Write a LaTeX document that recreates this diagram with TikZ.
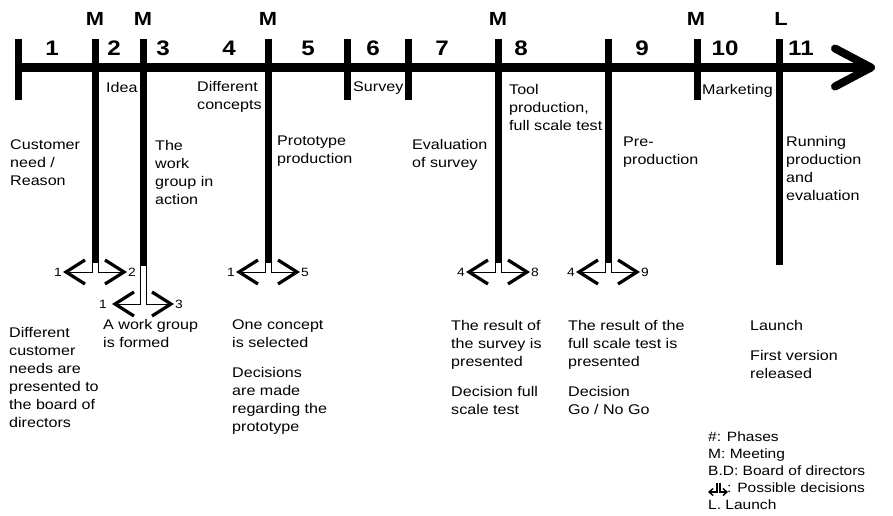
\documentclass[tikz,border=0pt]{standalone}
\usepackage{fontspec}
\setmainfont[FakeStretch=1.15]{Liberation Sans}
\usetikzlibrary{arrows.meta,positioning}

\begin{document}
\begin{tikzpicture}[x=1pt,y=-1pt,
   axis/.style={line width=9pt,-{Straight Barb[length=36pt,width=38pt,line width=8pt,round]}},
   bar/.style={line width=7pt},
   phase/.style={font=\fontsize{21}{21}\selectfont\bfseries,inner sep=0pt},
   meet/.style={font=\fontsize{19}{19}\selectfont\bfseries,inner sep=0pt},
   txt/.style={font=\fontsize{14}{18}\selectfont,align=left,anchor=north west,inner sep=0pt},
   num/.style={font=\fontsize{12}{12}\selectfont,inner sep=1pt},
   dec/.style={line width=1pt,-{Straight Barb[length=19pt,width=24pt,line width=3.2pt]}},
   mini/.style={line width=1.2pt,-{Straight Barb[length=4pt,width=7pt,line width=1.4pt]}}]
   \useasboundingbox (0,0) rectangle (893,516);

   % time axis
   \coordinate (axisL) at (18,67.5);
   \coordinate (axisR) at (875,67.5);
   \draw[axis] (axisL) -- (axisR);

   % phase borders
   \coordinate (startT) at (18,39);   \coordinate (startB) at (18,100);
   \coordinate (m1T) at (95,39);      \coordinate (m1B) at (95,263);
   \coordinate (m2T) at (143,39);     \coordinate (m2B) at (143,266);
   \coordinate (m3T) at (268,39);     \coordinate (m3B) at (268,263);
   \coordinate (surv1T) at (347,39);  \coordinate (surv1B) at (347,100);
   \coordinate (surv2T) at (408,39);  \coordinate (surv2B) at (408,100);
   \coordinate (m4T) at (498,39);     \coordinate (m4B) at (498,263);
   \coordinate (preT) at (608,39);    \coordinate (preB) at (608,263);
   \coordinate (m5T) at (697,39);     \coordinate (m5B) at (697,100);
   \coordinate (launchT) at (779,39); \coordinate (launchB) at (779,265);
   \draw[bar] (startT) -- (startB);
   \draw[bar] (m1T) -- (m1B);
   \draw[bar] (m2T) -- (m2B);
   \draw[bar] (m3T) -- (m3B);
   \draw[bar] (surv1T) -- (surv1B);
   \draw[bar] (surv2T) -- (surv2B);
   \draw[bar] (m4T) -- (m4B);
   \draw[bar] (preT) -- (preB);
   \draw[bar] (m5T) -- (m5B);
   \draw[bar] (launchT) -- (launchB);

   % phases
   \node[phase] (p1) at (52,48) {1};
   \node[phase] (p2) at (114,48) {2};
   \node[phase] (p3) at (163,48) {3};
   \node[phase] (p4) at (229,48) {4};
   \node[phase] (p5) at (308,48) {5};
   \node[phase] (p6) at (373,48) {6};
   \node[phase] (p7) at (442,48) {7};
   \node[phase] (p8) at (521,48) {8};
   \node[phase] (p9) at (642,48) {9};
   \node[phase] (p10) at (725,48) {10};
   \node[phase] (p11) at (801,48) {11};

   % meetings and launch
   \node[meet] (mm1) at (95,19) {M};
   \node[meet] (mm2) at (143,19) {M};
   \node[meet] (mm3) at (268,19) {M};
   \node[meet] (mm4) at (498,19) {M};
   \node[meet] (mm5) at (696,19) {M};
   \node[meet] (ll) at (781,19) {L};

   % activities
   \node[txt] (idea) at (106,82) {Idea};
   \node[txt] (concepts) at (197,81) {Different\\concepts};
   \node[txt] (survey) at (353,82) {Survey};
   \node[txt] (tool) at (509,84) {Tool\\production,\\full scale test};
   \node[txt] (marketing) at (702,84) {Marketing};
   \node[txt] (need) at (10,140) {Customer\\need /\\Reason};
   \node[txt] (group) at (155,140) {The\\work\\group in\\action};
   \node[txt] (proto) at (277,136) {Prototype\\production};
   \node[txt] (evalsurv) at (412,139) {Evaluation\\of survey};
   \node[txt] (preprod) at (623,137) {Pre-\\production};
   \node[txt] (running) at (786,136) {Running\\production\\and\\evaluation};

   % possible decisions
   \node[num,anchor=east] (d1l) at (63,272) {1};
   \node[num,anchor=west] (d1r) at (127,272) {2};
   \node[num,anchor=east,inner xsep=5pt] (d2l) at (112,304) {1};
   \node[num,anchor=west] (d2r) at (174,304) {3};
   \node[num,anchor=east] (d3l) at (236,272) {1};
   \node[num,anchor=west] (d3r) at (300,272) {5};
   \node[num,anchor=east] (d4l) at (466,272) {4};
   \node[num,anchor=west] (d4r) at (530,272) {8};
   \node[num,anchor=east] (d5l) at (576,272) {4};
   \node[num,anchor=west] (d5r) at (640,272) {9};
   \draw[dec] ([xshift=-3pt]m1B) |- (d1l);
   \draw[dec] ([xshift=3pt]m1B) |- (d1r);
   \draw[dec] ([xshift=-3pt]m2B) |- (d2l);
   \draw[dec] ([xshift=3pt]m2B) |- (d2r);
   \draw[dec] ([xshift=-3pt]m3B) |- (d3l);
   \draw[dec] ([xshift=3pt]m3B) |- (d3r);
   \draw[dec] ([xshift=-3pt]m4B) |- (d4l);
   \draw[dec] ([xshift=3pt]m4B) |- (d4r);
   \draw[dec] ([xshift=-3pt]preB) |- (d5l);
   \draw[dec] ([xshift=3pt]preB) |- (d5r);

   % decisions
   \node[txt] (board) at (9,327) {Different\\customer\\needs are\\presented to\\the board of\\directors};
   \node[txt] (formed) at (103,319) {A work group\\is formed};
   \node[txt] (selected) at (232,320) {One concept\\is selected\\[12pt]Decisions\\are made\\regarding the\\prototype};
   \node[txt] (surveyres) at (451,320) {The result of\\the survey is\\presented\\[12pt]Decision full\\scale test};
   \node[txt] (testres) at (568,320) {The result of the\\full scale test is\\presented\\[12pt]Decision\\Go / No Go};
   \node[txt] (launch) at (750,320) {Launch\\[12pt]First version\\released};

   % legend
   \node[txt,font=\fontsize{13.5}{17}\selectfont] (legend) at (708,432)
      {\#: Phases\\M: Meeting\\B.D: Board of directors\\\hspace{19pt}: Possible decisions\\L. Launch};
   \coordinate (symL) at (717,483);
   \coordinate (symR) at (720,483);
   \coordinate (symLe) at (708,492);
   \coordinate (symRe) at (728,492);
   \draw[mini] (symL) |- (symLe);
   \draw[mini] (symR) |- (symRe);
\end{tikzpicture}
\end{document}
